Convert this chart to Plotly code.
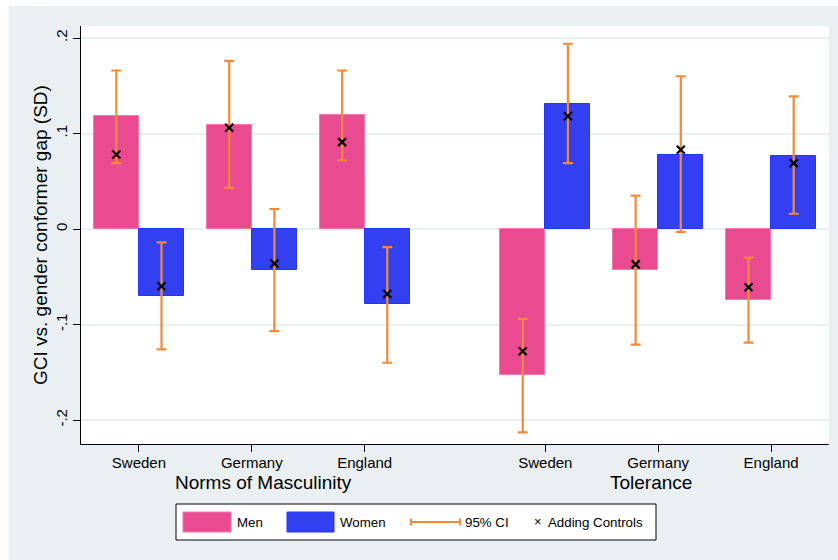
import plotly.graph_objects as go

# ---- data -------------------------------------------------------------
groups = ["Norms of Masculinity", "Tolerance"]
countries = ["Sweden", "Germany", "England", "Sweden", "Germany", "England"]

men = [0.118, 0.109, 0.119, -0.153, -0.043, -0.074]
men_lo = [0.069, 0.043, 0.072, -0.213, -0.121, -0.119]
men_hi = [0.166, 0.176, 0.166, -0.094, 0.035, -0.030]
men_ctrl = [0.078, 0.106, 0.091, -0.128, -0.037, -0.061]

women = [-0.070, -0.043, -0.079, 0.131, 0.078, 0.077]
women_lo = [-0.126, -0.107, -0.140, 0.069, -0.003, 0.016]
women_hi = [-0.014, 0.021, -0.019, 0.194, 0.160, 0.139]
women_ctrl = [-0.060, -0.036, -0.068, 0.118, 0.083, 0.069]

ytick_vals = [-0.2, -0.1, 0, 0.1, 0.2]
ytick_text = ["-.2", "-.1", "0", ".1", ".2"]

# ---- styling ----------------------------------------------------------
PINK = "#EA4B90"
PINK_EDGE = "#F27BAE"
BLUE = "#3340F2"
BLUE_EDGE = "#2236F7"
ORANGE = "#F28A3A"
BG = "#EAEFF2"
FONT = "Liberation Sans, Arial, sans-serif"

W, H = 838, 560
L, R, T, B = 81, 9, 26, 116
PW, PH = W - L - R, H - T - B


def px(x):
    return (x - L) / PW


def py(y):
    return (H - B - y) / PH


# category positions: two groups of three with a wider gap between groups
GAP = 0.6
pos = [i + (GAP if i >= 3 else 0) for i in range(len(countries))]
BW = 0.4
x_men = [p - BW / 2 for p in pos]
x_women = [p + BW / 2 for p in pos]


def err(vals, lo, hi):
    return dict(
        type="data", symmetric=False,
        array=[h - v for v, h in zip(vals, hi)],
        arrayminus=[v - l for v, l in zip(vals, lo)],
        color=ORANGE, thickness=2.2, width=5,
    )


fig = go.Figure()
fig.add_trace(go.Bar(x=x_men, y=men, width=BW, name="Men",
                     marker=dict(color=PINK, line=dict(color=PINK_EDGE, width=1))))
fig.add_trace(go.Bar(x=x_women, y=women, width=BW, name="Women",
                     marker=dict(color=BLUE, line=dict(color=BLUE_EDGE, width=1))))
# 95% confidence intervals
fig.add_trace(go.Scatter(x=x_men, y=men, mode="markers", marker=dict(size=1, opacity=0),
                         error_y=err(men, men_lo, men_hi), name="95% CI"))
fig.add_trace(go.Scatter(x=x_women, y=women, mode="markers", marker=dict(size=1, opacity=0),
                         error_y=err(women, women_lo, women_hi), name="95% CI"))
# estimates with controls
fig.add_trace(go.Scatter(x=x_men + x_women, y=men_ctrl + women_ctrl, mode="markers",
                         name="Adding Controls",
                         marker=dict(symbol="x-thin", size=8, color="black",
                                     line=dict(color="black", width=2.2))))

shapes = [
    # white strips framing the grey background
    dict(type="rect", xref="paper", yref="paper", x0=px(0), x1=px(W), y0=py(0), y1=py(6),
         fillcolor="white", line=dict(width=0), layer="below"),
    dict(type="rect", xref="paper", yref="paper", x0=px(0), x1=px(9), y0=py(0), y1=py(H),
         fillcolor="white", line=dict(width=0), layer="below"),
    # legend box
    dict(type="rect", xref="paper", yref="paper", x0=px(176), x1=px(656), y0=py(504), y1=py(540),
         fillcolor="white", line=dict(color="black", width=1)),
    dict(type="rect", xref="paper", yref="paper", x0=px(183), x1=px(231), y0=py(512), y1=py(532),
         fillcolor=PINK, line=dict(color=PINK_EDGE, width=1)),
    dict(type="rect", xref="paper", yref="paper", x0=px(287), x1=px(334), y0=py(512), y1=py(532),
         fillcolor=BLUE, line=dict(color=BLUE_EDGE, width=1)),
    dict(type="line", xref="paper", yref="paper", x0=px(411), x1=px(460), y0=py(522), y1=py(522),
         line=dict(color=ORANGE, width=2.2)),
    dict(type="line", xref="paper", yref="paper", x0=px(411), x1=px(411), y0=py(518.5), y1=py(525.5),
         line=dict(color=ORANGE, width=2.2)),
    dict(type="line", xref="paper", yref="paper", x0=px(460), x1=px(460), y0=py(518.5), y1=py(525.5),
         line=dict(color=ORANGE, width=2.2)),
]


def label(text, x, y, size=13.3, xanchor="left", angle=0):
    return dict(text=text, xref="paper", yref="paper", x=px(x), y=py(y), showarrow=False,
                xanchor=xanchor, yanchor="middle", textangle=angle,
                font=dict(family=FONT, size=size, color="black"))


annotations = [
    label(groups[0], 263, 482.5, size=19, xanchor="center"),
    label(groups[1], 650.5, 482.5, size=19, xanchor="center"),
    label("GCI vs. gender conformer gap (SD)", 40.5, 235.5, size=19, xanchor="center", angle=-90),
    label("Men", 235, 522),
    label("Women", 338, 522),
    label("95% CI", 463, 522),
    label("×", 538, 521, size=13, xanchor="center"),
    label("Adding Controls", 546, 522),
]

fig.update_layout(
    width=W, height=H,
    margin=dict(l=L, r=R, t=T, b=B, pad=0),
    paper_bgcolor=BG, plot_bgcolor="white",
    barmode="overlay", bargap=0,
    showlegend=False,
    font=dict(family=FONT, size=15, color="black"),
    shapes=shapes, annotations=annotations,
    xaxis=dict(range=[-0.513, pos[-1] + 0.513], tickvals=pos, ticktext=countries,
               showgrid=False, zeroline=False, showline=True, linecolor="black", linewidth=1.2,
               ticks="outside", ticklen=7, tickwidth=1.2, tickcolor="black",
               ticklabelstandoff=-2, tickfont=dict(size=15)),
    yaxis=dict(range=[-0.2251, 0.2126], tickvals=ytick_vals, ticktext=ytick_text,
               tickangle=-90, showgrid=True, gridcolor=BG, gridwidth=1.5, zeroline=False,
               showline=True, linecolor="black", linewidth=1.2,
               ticks="outside", ticklen=7, tickwidth=1.2, tickcolor="black",
               tickfont=dict(size=15)),
)

fig.write_html("out.html")
